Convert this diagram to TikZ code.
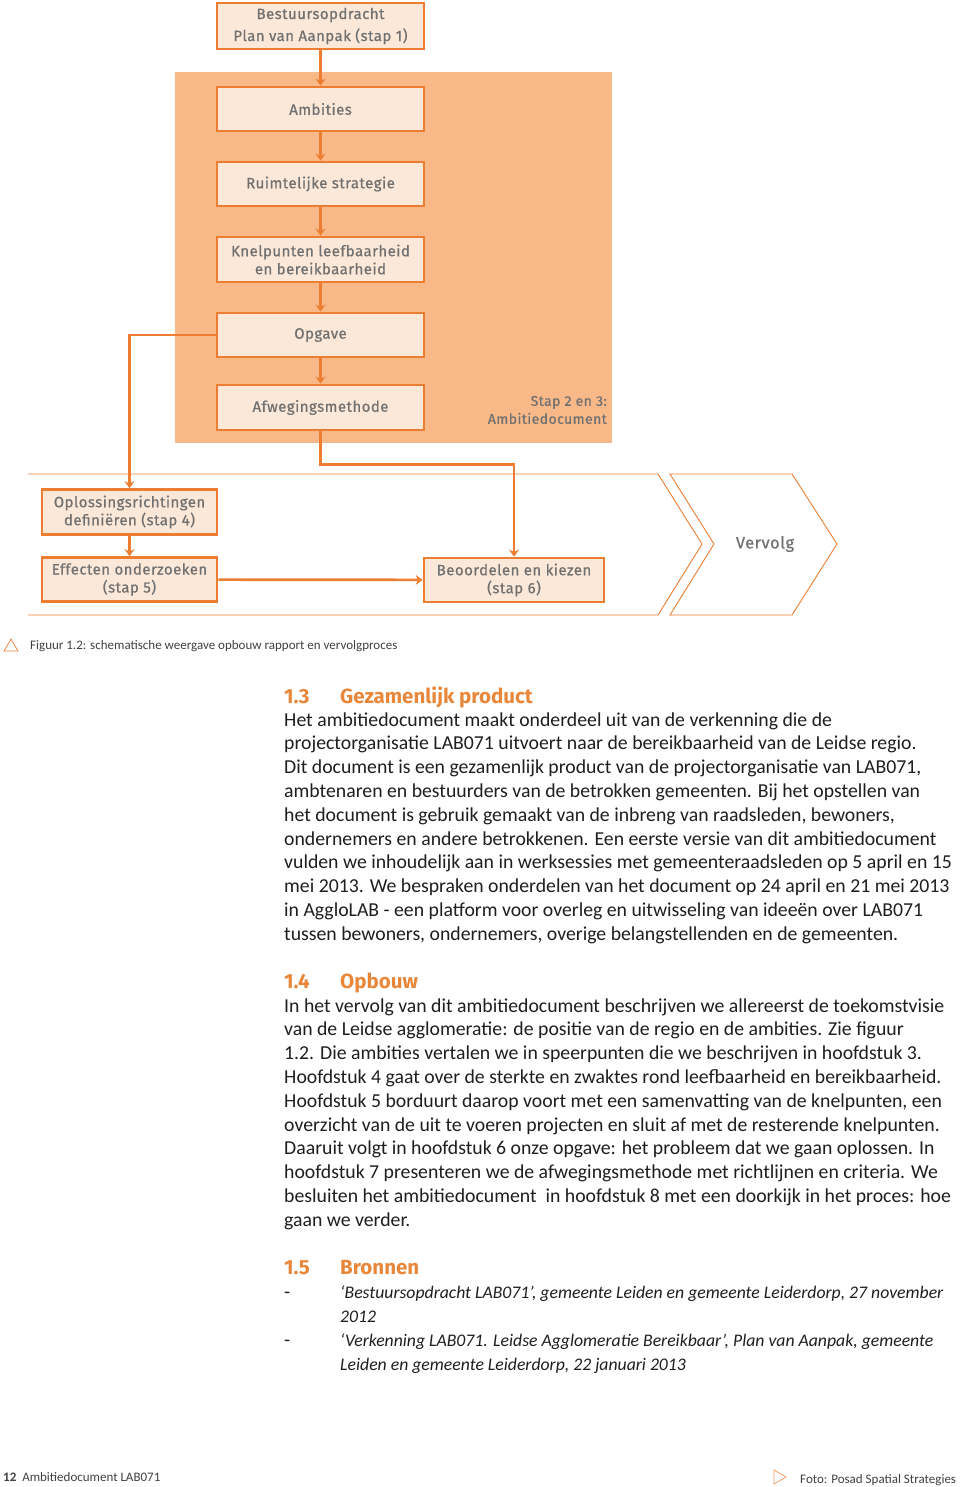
\documentclass[tikz,border=0pt]{standalone}
\usepackage{fontspec}
\setmainfont{Carlito}
\newfontfamily\diagfont{Fira Sans}[LetterSpace=3.0,FakeBold=0.6]
\newfontfamily\headfont{Fira Sans}
\usetikzlibrary{arrows.meta}
\definecolor{orline}{HTML}{ED7D31}
\definecolor{boxfill}{HTML}{FCE8D9}
\definecolor{bgor}{HTML}{F9B887}
\definecolor{dgray}{HTML}{707070}
\definecolor{bodytxt}{HTML}{1E1E1E}
\definecolor{heador}{HTML}{E8873A}
\begin{document}
\begin{tikzpicture}[x=1pt,y=-1pt,
  fbox/.style={draw=orline, line width=2.7pt, fill=boxfill, text=dgray,
    font=\diagfont\fontsize{15}{18}\selectfont, align=center, inner sep=0pt,
    minimum width=207pt, minimum height=44pt},
  sbox/.style={fbox, minimum width=175pt},
  arr/.style={draw=orline, line width=2.7pt, -{Stealth[length=7pt,width=10pt]}},
  chev/.style={draw=orline, line width=0.9pt},
  body/.style={anchor=base west, inner sep=0pt, text=bodytxt, font=\fontsize{19.75}{22}\selectfont},
  bodyit/.style={body, font=\fontsize{17.7}{22}\selectfont\itshape},
  head/.style={anchor=base west, inner sep=0pt, text=heador, font=\headfont\bfseries\fontsize{20.5}{22}\selectfont},
  small/.style={anchor=base west, inner sep=0pt, text=bodytxt!85, font=\fontsize{13}{14}\selectfont}]
\useasboundingbox (0,0) rectangle (960,1487);
% background of step 2 and 3
\fill[bgor] (175,72) rectangle (612,443);
% chevrons
\draw[chev] (28,474) -- (658,474) -- (702,544) -- (658,615) -- (28,615);
\draw[chev] (670,474) -- (792,474) -- (837,544) -- (792,615) -- (670,615) -- (714,544) -- cycle;
\node[text=dgray, font=\diagfont\fontsize{16.5}{18}\selectfont] (vervolg) at (765,544) {Vervolg};
% boxes
\node[fbox, minimum height=46pt] (b1) at (320.5,26) {\raisebox{-2pt}{Bestuursopdracht}\\[4pt]\raisebox{-2pt}{Plan van Aanpak (stap 1)}};
\node[fbox] (amb) at (320.5,109) {Ambities};
\node[fbox] (rui) at (320.5,184) {Ruimtelijke strategie};
\node[fbox, minimum height=45pt] (kne) at (320.5,259.5) {Knelpunten leefbaarheid\\en bereikbaarheid};
\node[fbox] (opg) at (320.5,335) {Opgave};
\node[fbox, minimum height=45pt] (afw) at (320.5,407.5) {Afwegingsmethode};
\node[anchor=east, align=right, text=dgray, inner sep=0pt, font=\diagfont\fontsize{14}{18}\selectfont] (stap) at (607,410) {Stap 2 en 3:\\Ambitiedocument};
\node[sbox, minimum height=45pt] (opl) at (129.5,512) {Oplossingsrichtingen\\definiëren (stap 4)};
\node[sbox] (eff) at (129.5,579.5) {Effecten onderzoeken\\(stap 5)};
\node[fbox, minimum width=180pt] (beo) at (514,580) {Beoordelen en kiezen\\(stap 6)};
% connectors
\draw[arr] (b1) -- (amb);
\draw[arr] (amb) -- (rui);
\draw[arr] (rui) -- (kne);
\draw[arr] (kne) -- (opg);
\draw[arr] (opg) -- (afw);
\draw[arr] (opg.west) -| (opl.north);
\draw[arr] (opl) -- (eff);
\draw[arr] (eff) -- (beo);
\draw[arr] (afw.south) -- ++(0,33) -| (beo.north);
% caption
\draw[orline, line width=0.7pt] (4,651) -- (18,651) -- (11,639) -- cycle;
\node[small] (cap) at (30,649) {Figuur 1.2: schematische weergave opbouw rapport en vervolgproces};
% section 1.3
\node[head] (h13n) at (284,703) {1.3};
\node[head] (h13) at (340,703) {Gezamenlijk product};
\foreach \t [count=\i] in {
 {Het ambitiedocument maakt onderdeel uit van de verkenning die de},
 {projectorganisatie LAB071 uitvoert naar de bereikbaarheid van de Leidse regio.},
 {Dit document is een gezamenlijk product van de projectorganisatie van LAB071,},
 {ambtenaren en bestuurders van de betrokken gemeenten. Bij het opstellen van},
 {het document is gebruik gemaakt van de inbreng van raadsleden, bewoners,},
 {ondernemers en andere betrokkenen. Een eerste versie van dit ambitiedocument},
 {vulden we inhoudelijk aan in werksessies met gemeenteraadsleden op 5 april en 15},
 {mei 2013. We bespraken onderdelen van het document op 24 april en 21 mei 2013},
 {in AggloLAB - een platform voor overleg en uitwisseling van ideeën over LAB071},
 {tussen bewoners, ondernemers, overige belangstellenden en de gemeenten.}}
 {\node[body] (pa\i) at (284,{726+23.8*(\i-1)}) {\t};}
% section 1.4
\node[head] (h14n) at (284,988) {1.4};
\node[head] (h14) at (340,988) {Opbouw};
\foreach \t [count=\i] in {
 {In het vervolg van dit ambitiedocument beschrijven we allereerst de toekomstvisie},
 {van de Leidse agglomeratie: de positie van de regio en de ambities. Zie figuur},
 {1.2. Die ambities vertalen we in speerpunten die we beschrijven in hoofdstuk 3.},
 {Hoofdstuk 4 gaat over de sterkte en zwaktes rond leefbaarheid en bereikbaarheid.},
 {Hoofdstuk 5 borduurt daarop voort met een samenvatting van de knelpunten, een},
 {overzicht van de uit te voeren projecten en sluit af met de resterende knelpunten.},
 {Daaruit volgt in hoofdstuk 6 onze opgave: het probleem dat we gaan oplossen. In},
 {hoofdstuk 7 presenteren we de afwegingsmethode met richtlijnen en criteria. We},
 {besluiten het ambitiedocument \ in hoofdstuk 8 met een doorkijk in het proces: hoe},
 {gaan we verder.}}
 {\node[body] (pb\i) at (284,{1012+23.8*(\i-1)}) {\t};}
% section 1.5
\node[head] (h15n) at (284,1274) {1.5};
\node[head] (h15) at (340,1274) {Bronnen};
\node[body] (d1) at (284,1298) {-};
\node[bodyit] (r1a) at (340,1298) {‘Bestuursopdracht LAB071’, gemeente Leiden en gemeente Leiderdorp, 27 november};
\node[bodyit] (r1b) at (340,1322) {2012};
\node[body] (d2) at (284,1346) {-};
\node[bodyit] (r2a) at (340,1346) {‘Verkenning LAB071. Leidse Agglomeratie Bereikbaar’, Plan van Aanpak, gemeente};
\node[bodyit] (r2b) at (340,1370) {Leiden en gemeente Leiderdorp, 22 januari 2013};
% footer
\node[small] (foot) at (3,1481) {\textbf{12}\ \ Ambitiedocument LAB071};
\draw[orline!80, line width=0.7pt] (774,1470) -- (786,1477) -- (774,1484) -- cycle;
\node[small] (foto) at (800,1483) {Foto: Posad Spatial Strategies};
\end{tikzpicture}
\end{document}
